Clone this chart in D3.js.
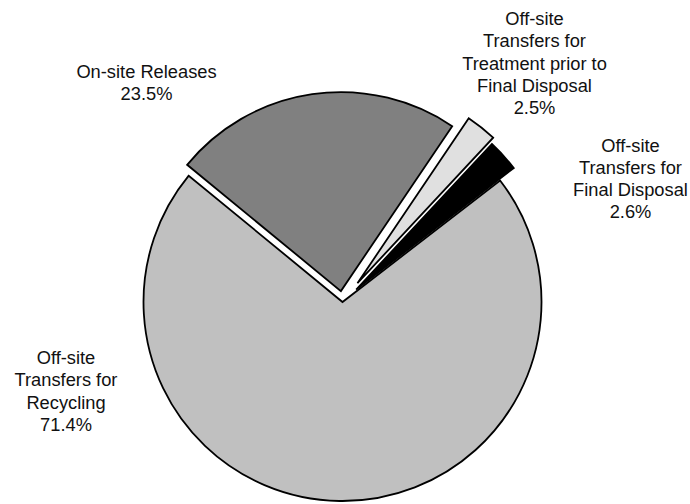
<!DOCTYPE html>
<html>
<head>
<meta charset="utf-8">
<script src="https://cdn.jsdelivr.net/npm/d3@7"></script>
<style>
  html, body { margin: 0; padding: 0; background: #fff; }
  svg { display: block; }
  text { font-family: "Liberation Sans", Arial, Helvetica, sans-serif; fill: #111; }
</style>
</head>
<body>
<svg id="chart" width="690" height="504"></svg>
<script>
// ---- data ----
const categories = [
  "On-site Releases",
  "Off-site Transfers for Treatment prior to Final Disposal",
  "Off-site Transfers for Final Disposal",
  "Off-site Transfers for Recycling"
];
const values = [23.5, 2.5, 2.6, 71.4];
const labelLines = [
  ["On-site Releases"],
  ["Off-site", "Transfers for", "Treatment prior to", "Final Disposal"],
  ["Off-site", "Transfers for", "Final Disposal"],
  ["Off-site", "Transfers for", "Recycling"]
];
const pctLabels = ["23.5%", "2.5%", "2.6%", "71.4%"];

// ---- style / layout ----
const colors = ["#808080", "#e0e0e0", "#000000", "#c0c0c0"];
const explode = [11, 24, 18.5, 0];
const labelPos = [   // x center, first baseline
  [146.5, 77.5],
  [534.5, 25],
  [630.5, 151.5],
  [66, 364]
];
const lineH = 22.3;
const cx = 342.5, cy = 302, R = 199;
const startDeg = -50.6;

const svg = d3.select("#chart");
const g = svg.append("g").attr("transform", `translate(${cx},${cy})`);

const pie = d3.pie().sort(null).value(d => d)
  .startAngle(startDeg * Math.PI / 180)
  .endAngle(startDeg * Math.PI / 180 + 2 * Math.PI);
const arcs = pie(values);
const arc = d3.arc().innerRadius(0).outerRadius(R);

g.selectAll("path.slice")
  .data(arcs)
  .join("path")
  .attr("class", "slice")
  .attr("d", arc)
  .attr("fill", (d, i) => colors[i])
  .attr("stroke", "#000")
  .attr("stroke-width", 1.8)
  .attr("stroke-linejoin", "miter")
  .attr("transform", (d, i) => {
    const mid = (d.startAngle + d.endAngle) / 2;
    return `translate(${Math.sin(mid) * explode[i]},${-Math.cos(mid) * explode[i]})`;
  });

// labels
const lg = svg.append("g");
categories.forEach((c, i) => {
  const lines = labelLines[i].concat([pctLabels[i]]);
  const t = lg.append("text")
    .attr("text-anchor", "middle")
    .attr("font-size", "18.3px");
  lines.forEach((ln, k) => {
    t.append("tspan")
      .attr("x", labelPos[i][0])
      .attr("y", labelPos[i][1] + k * lineH)
      .text(ln);
  });
});
</script>
</body>
</html>
